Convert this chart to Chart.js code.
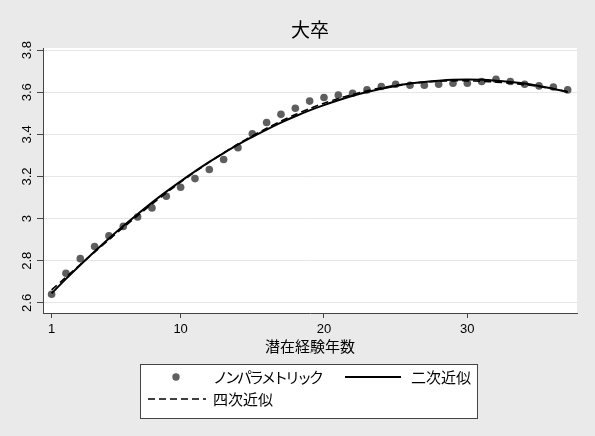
<!DOCTYPE html>
<html><head><meta charset="utf-8">
<script src="https://cdn.jsdelivr.net/npm/chart.js@4/dist/chart.umd.min.js"></script>
<style>html,body{margin:0;padding:0;background:#eaeaea;}#wrap{width:595px;height:436px;}</style>
</head><body><div id="wrap"><canvas id="c" width="595" height="436"></canvas></div>
<script>
const titleText = '大卒';
const xAxisTitle = '潜在経験年数';
const seriesNames = ['ノンパラメトリック', '二次近似', '四次近似'];
const experience = [1,2,3,4,5,6,7,8,9,10,11,12,13,14,15,16,17,18,19,20,21,22,23,24,25,26,27,28,29,30,31,32,33,34,35,36,37];
const nonparametric = [2.641,2.741,2.810,2.868,2.919,2.963,3.008,3.051,3.106,3.149,3.190,3.233,3.281,3.337,3.403,3.456,3.495,3.524,3.558,3.575,3.587,3.595,3.611,3.627,3.638,3.633,3.633,3.638,3.643,3.643,3.651,3.662,3.651,3.638,3.630,3.625,3.611];
const quadraticFit = [2.645,2.714,2.780,2.844,2.906,2.965,3.021,3.076,3.128,3.177,3.224,3.269,3.311,3.351,3.388,3.423,3.456,3.486,3.514,3.539,3.562,3.583,3.601,3.617,3.630,3.641,3.649,3.655,3.659,3.660,3.659,3.655,3.649,3.641,3.630,3.617,3.601];
const quarticFit = [2.662,2.722,2.782,2.841,2.900,2.958,3.014,3.069,3.122,3.173,3.222,3.268,3.312,3.354,3.393,3.429,3.463,3.494,3.522,3.548,3.570,3.590,3.607,3.621,3.633,3.642,3.648,3.652,3.654,3.654,3.652,3.648,3.643,3.636,3.627,3.616,3.603];
const xTickValues = [1, 10, 20, 30];
const yTickValues = [2.6, 2.8, 3, 3.2, 3.4, 3.6, 3.8];

const pts = (ys) => experience.map((x, i) => ({x: x, y: ys[i]}));
const JP = '"Noto Sans CJK JP", "Noto Sans", sans-serif';
const LAT = '"Liberation Sans", Arial, sans-serif';

const bgPlugin = {
  id: 'bg',
  beforeDraw(chart) {
    const {ctx, chartArea: a} = chart;
    ctx.save();
    ctx.fillStyle = '#eaeaea';
    ctx.fillRect(0, 0, chart.width, chart.height);
    ctx.fillStyle = '#ffffff';
    ctx.fillRect(a.left, a.top, a.right - a.left, a.bottom - a.top);
    ctx.restore();
  }
};

const titlePlugin = {
  id: 'centeredTitle',
  afterDraw(chart) {
    const {ctx, chartArea: a} = chart;
    ctx.save();
    ctx.fillStyle = '#000';
    ctx.font = '19px ' + JP;
    ctx.textAlign = 'center';
    ctx.textBaseline = 'middle';
    ctx.fillText(titleText, (a.left + a.right) / 2, 30);
    ctx.restore();
  }
};

const legendPlugin = {
  id: 'stataLegend',
  afterDraw(chart) {
    const ctx = chart.ctx;
    const ds = chart.data.datasets;
    ctx.save();
    ctx.fillStyle = '#ffffff';
    ctx.fillRect(140.5, 364.5, 337, 54);
    ctx.strokeStyle = '#444';
    ctx.lineWidth = 1;
    ctx.strokeRect(140.5, 364.5, 337, 54);
    const r1 = 377, r2 = 399;
    ctx.fillStyle = ds[0].pointBackgroundColor;
    ctx.beginPath(); ctx.arc(176, r1, 3.7, 0, Math.PI * 2); ctx.fill();
    ctx.strokeStyle = '#000';
    ctx.lineWidth = 2;
    ctx.beginPath(); ctx.moveTo(345, r1); ctx.lineTo(401, r1); ctx.stroke();
    ctx.lineWidth = 1.6;
    ctx.setLineDash([7, 4]);
    ctx.beginPath(); ctx.moveTo(148, r2); ctx.lineTo(206, r2); ctx.stroke();
    ctx.setLineDash([]);
    ctx.fillStyle = '#000';
    ctx.textBaseline = 'middle';
    ctx.textAlign = 'left';
    ctx.font = '15px ' + JP;
    if ('letterSpacing' in ctx) ctx.letterSpacing = '-3px';
    ctx.fillText(ds[0].label, 213, r1);
    if ('letterSpacing' in ctx) ctx.letterSpacing = '0px';
    ctx.fillText(ds[1].label, 411, r1);
    ctx.fillText(ds[2].label, 213, r2);
    ctx.restore();
  }
};

new Chart(document.getElementById('c'), {
  type: 'scatter',
  data: {
    datasets: [
      {label: seriesNames[0], data: pts(nonparametric), showLine: false, pointRadius: 3.8, pointHoverRadius: 3.8,
       pointBackgroundColor: '#5e5e5e', pointBorderWidth: 0, order: 2},
      {label: seriesNames[1], data: pts(quadraticFit), showLine: true, pointRadius: 0, borderColor: '#000',
       borderWidth: 2, tension: 0.3, fill: false, order: 1},
      {label: seriesNames[2], data: pts(quarticFit), showLine: true, pointRadius: 0, borderColor: '#000',
       borderWidth: 1.6, borderDash: [7, 4], tension: 0.3, fill: false, order: 0}
    ]
  },
  options: {
    responsive: false,
    animation: false,
    devicePixelRatio: 1,
    layout: {padding: {left: 0, right: 18, top: 48, bottom: 0}},
    plugins: {
      legend: {display: false},
      tooltip: {enabled: false},
      title: {display: false}
    },
    scales: {
      x: {
        type: 'linear', min: 0.4, max: 37.65,
        afterBuildTicks: (s) => { s.ticks = xTickValues.map(v => ({value: v})); },
        afterFit: (s) => { s.height = 123; s.paddingLeft = 0; s.paddingRight = 0; },
        grid: {drawOnChartArea: false, drawTicks: true, tickLength: 5, tickColor: '#444'},
        border: {display: true, color: '#444', width: 1},
        ticks: {color: '#000', font: {family: LAT, size: 13}, padding: 4, maxRotation: 0, autoSkip: false,
                callback: (v) => String(v)},
        title: {display: true, text: xAxisTitle, color: '#000', font: {family: JP, size: 15},
                padding: {top: 0, bottom: 81}}
      },
      y: {
        type: 'linear', min: 2.552, max: 3.81,
        afterBuildTicks: (s) => { s.ticks = yTickValues.map(v => ({value: v})); },
        afterFit: (s) => { s.width = 43; s.paddingTop = 0; s.paddingBottom = 0; },
        grid: {color: '#e6e6e6', lineWidth: 1, drawTicks: true, tickLength: 6, tickColor: '#444'},
        border: {display: true, color: '#444', width: 1},
        ticks: {color: '#000', font: {family: LAT, size: 13}, padding: 1, minRotation: 90, maxRotation: 90,
                crossAlign: 'center', autoSkip: false, callback: (v) => String(v)}
      }
    }
  },
  plugins: [bgPlugin, titlePlugin, legendPlugin]
});
</script></body></html>
